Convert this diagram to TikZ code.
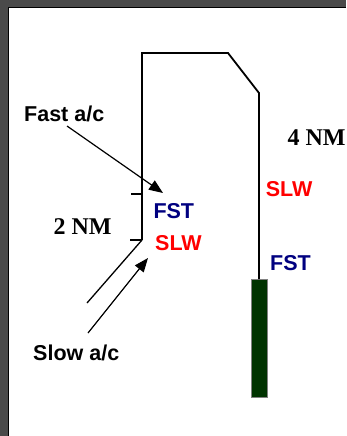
\documentclass[tikz,border=0pt]{standalone}
\usepackage{fontspec}
\setmainfont{Liberation Sans}
\newfontfamily\serifnm{Liberation Serif}
\usetikzlibrary{arrows.meta}
\definecolor{FrameGray}{RGB}{74,74,74}
\definecolor{FstBlue}{RGB}{0,0,128}
\definecolor{SlwRed}{RGB}{255,0,0}
\definecolor{RunwayGreen}{RGB}{0,51,0}

\begin{document}
\begin{tikzpicture}[x=1pt, y=-1pt,
    track/.style={line width=1.8pt},
    lbl/.style={anchor=base west, inner sep=0pt, font=\fontsize{21.5}{24}\bfseries\selectfont},
    nm/.style={anchor=base west, inner sep=0pt, font=\serifnm\bfseries\fontsize{24}{26}\selectfont},
    pointer/.style={line width=1.2pt, -{Triangle[length=14pt,width=11pt]}}]
    \useasboundingbox (0,0) rectangle (346,436);

    % Window frame
    \fill[FrameGray] (0,0) rectangle (346,436);
    \fill[white] (8,7) rectangle (346,436);
    \draw[black, line width=1pt] (8.5,436) -- (8.5,7.5) -- (346,7.5);

    % Track
    \coordinate (entry) at (87,303);
    \coordinate (turn) at (142,240);
    \coordinate (lefttop) at (142,53);
    \coordinate (righttop) at (228,53);
    \coordinate (bend) at (259,93);
    \node[draw=gray, line width=0.6pt, fill=RunwayGreen, minimum width=16pt, minimum height=118pt,
      inner sep=0pt, anchor=north] (runway) at (259,279) {};
    \draw[line width=1.3pt] (entry) -- (turn);
    \draw[track, line join=miter] (turn) -- (lefttop) -- (righttop) -- (bend) -- (runway.north);

    % Ticks for 2 NM
    \coordinate (tickup) at (131,194);
    \coordinate (tickupend) at (142,194);
    \coordinate (tickdown) at (130,240);
    \draw[line width=1.3pt] (tickup) -- (tickupend);
    \draw[line width=1.3pt] (tickdown) -- (turn);

    % Labels
    \node[lbl] (fastlbl) at (24,121.7) {Fast a/c};
    \node[lbl] (slowlbl) at (33,360.7) {Slow a/c};
    \node[nm] (twonm) at (53.3,234.3) {2 NM};
    \node[nm] (fournm) at (287.3,145) {4 NM};
    \node[lbl, text=FstBlue] (fstleft) at (153.3,218.3) {FST};
    \node[lbl, text=SlwRed] (slwleft) at (155,250.7) {SLW};
    \node[lbl, text=SlwRed] (slwright) at (265.7,196.5) {SLW};
    \node[lbl, text=FstBlue] (fstright) at (270,270) {FST};

    % Pointers
    \coordinate (fastfrom) at (67,126);
    \coordinate (fastto) at (163,193);
    \coordinate (slowfrom) at (88,333);
    \coordinate (slowto) at (148,258);
    \draw[pointer] (fastfrom) -- (fastto);
    \draw[pointer] (slowfrom) -- (slowto);
\end{tikzpicture}
\end{document}
